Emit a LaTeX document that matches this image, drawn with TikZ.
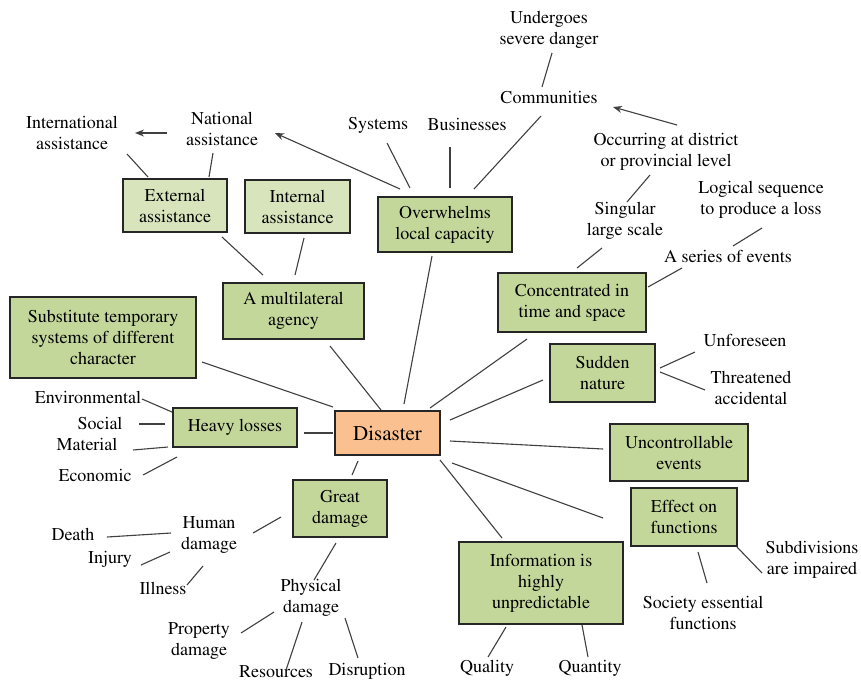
\documentclass[tikz,border=0pt]{standalone}
\usepackage[T1]{fontenc}
\usepackage{times}
\usetikzlibrary{arrows.meta}
\definecolor{boxgreen}{HTML}{C4D79B}
\definecolor{lightgreen}{HTML}{D8E4BC}
\definecolor{peach}{HTML}{FAC090}
\tikzset{
  txt/.style={font=\rmfamily\fontsize{18}{21}\selectfont},
  box/.style={txt, draw=black!85, line width=1.3pt, fill=boxgreen, align=center, inner sep=0pt},
  lbox/.style={box, fill=lightgreen},
  lbl/.style={txt, align=center, inner sep=0pt},
  conn/.style={draw=black!75, line width=1.1pt},
  arr/.style={conn, -{Stealth[length=9pt,width=7pt]}},
}
\newcommand{\cn}[4]{\draw[conn] ([shift={#2}]#1.center) -- ([shift={#4}]#3.center);}
\newcommand{\ca}[4]{\draw[arr] ([shift={#2}]#1.center) -- ([shift={#4}]#3.center);}
\begin{document}
\begin{tikzpicture}[x=1pt,y=-1pt]
\useasboundingbox[fill=white] (0,0) rectangle (861,681);
% boxes
\node[box, fill=peach, font=\rmfamily\fontsize{21}{24}\selectfont, minimum width=105pt, minimum height=44pt] (D) at (387.5,433) {Disaster};
\node[box, minimum width=124pt, minimum height=39pt] (H) at (235,427.5) {Heavy losses};
\node[box, minimum width=186pt, minimum height=81pt] (S) at (103,337.5) {Substitute temporary\\systems of different\\character};
\node[box, minimum width=141pt, minimum height=56pt] (M) at (293.5,311) {A multilateral\\agency};
\node[lbox, minimum width=104pt, minimum height=53pt] (E) at (175,205.5) {External\\assistance};
\node[lbox, minimum width=105pt, minimum height=53pt] (I) at (297.5,206.5) {Internal\\assistance};
\node[box, minimum width=134pt, minimum height=55pt] (O) at (445,224.5) {Overwhelms\\local capacity};
\node[box, minimum width=148pt, minimum height=59pt] (C) at (572,302.5) {Concentrated in\\time and space};
\node[box, minimum width=105pt, minimum height=58pt] (SN) at (602.5,373) {Sudden\\nature};
\node[box, minimum width=138pt, minimum height=57pt] (U) at (679,452.5) {Uncontrollable\\events};
\node[box, minimum width=106pt, minimum height=58pt] (EF) at (684,517) {Effect on\\functions};
\node[box, minimum width=164pt, minimum height=82pt] (IN) at (541,583) {Information is\\highly\\unpredictable};
\node[box, minimum width=94pt, minimum height=57pt] (G) at (340,508.5) {Great\\damage};
% labels
\node[lbl] (intl) at (72,133) {International\\assistance};
\node[lbl] (natl) at (222,129) {National\\assistance};
\node[lbl] (systems) at (378,125) {Systems};
\node[lbl] (business) at (467,124) {Businesses};
\node[lbl] (undergoes) at (549,30) {Undergoes\\severe danger};
\node[lbl] (comm) at (549,97) {Communities};
\node[lbl] (occ) at (666,152) {Occurring at district\\or provincial level};
\node[lbl] (logical) at (761,200) {Logical sequence\\to produce a loss};
\node[lbl] (singular) at (625,221) {Singular\\large scale};
\node[lbl] (series) at (728,256) {A series of events};
\node[lbl] (unf) at (745,340) {Unforeseen};
\node[lbl] (threat) at (751,387.5) {Threatened\\accidental};
\node[lbl] (env) at (88,397) {Environmental};
\node[lbl] (social) at (100,423) {Social};
\node[lbl] (material) at (87,444) {Material};
\node[lbl] (econ) at (95,475) {Economic};
\node[lbl] (human) at (209,535) {Human\\damage};
\node[lbl] (death) at (73,534) {Death};
\node[lbl] (injury) at (110,559) {Injury};
\node[lbl] (illness) at (163,588) {Illness};
\node[lbl] (physical) at (311,597.5) {Physical\\damage};
\node[lbl] (property) at (199,641) {Property\\damage};
\node[lbl] (resources) at (276,672) {Resources};
\node[lbl] (disruption) at (367,671) {Disruption};
\node[lbl] (quality) at (487,668) {Quality};
\node[lbl] (quantity) at (590,668) {Quantity};
\node[lbl] (society) at (703,613) {Society essential\\functions};
\node[lbl] (subdiv) at (812,560) {Subdivisions\\are impaired};
% connectors
\ca{natl}{(-55,4)}{intl}{(63,0)}
\cn{intl}{(55,21)}{E}{(-27,-28.5)}
\cn{natl}{(-9,24)}{E}{(34,-28.5)}
\ca{O}{(-45,-35.5)}{natl}{(53,4)}
\cn{systems}{(9,18)}{O}{(-35,-36.5)}
\cn{business}{(-17,23)}{O}{(5,-36.5)}
\cn{comm}{(-8,19)}{O}{(29,-35.5)}
\cn{undergoes}{(3,23)}{comm}{(-7,-10)}
\ca{occ}{(11,-27)}{comm}{(64,10)}
\cn{occ}{(-16,23)}{singular}{(2,-19)}
\cn{logical}{(1,28)}{series}{(5,-10)}
\cn{singular}{(-23,27)}{C}{(5,-34.5)}
\cn{series}{(-46,12)}{C}{(76,-15.5)}
\cn{C}{(-45,36.5)}{D}{(42.5,-25)}
\cn{SN}{(-59.5,7)}{D}{(62.5,-13)}
\cn{SN}{(57.5,-5)}{unf}{(-50,12)}
\cn{SN}{(57.5,-1)}{threat}{(-46,2.5)}
\cn{U}{(-76,-3.5)}{D}{(62.5,8)}
\cn{EF}{(-81,1)}{D}{(64.5,30)}
\cn{IN}{(-39,-45)}{D}{(52.5,27)}
\cn{EF}{(14,35)}{society}{(4,-30)}
\cn{EF}{(53,30)}{subdiv}{(-50,13)}
\cn{IN}{(-35,44)}{quality}{(1,-11)}
\cn{IN}{(41,42)}{quantity}{(-2,-11)}
\cn{D}{(-29.5,28)}{G}{(12,-33.5)}
\cn{G}{(-59,8.5)}{human}{(44,-2)}
\cn{human}{(-38,-2)}{death}{(34,3)}
\cn{human}{(-39,17)}{injury}{(31,6)}
\cn{human}{(-6,31)}{illness}{(24,-3)}
\cn{G}{(-4,34.5)}{physical}{(3,-17.5)}
\cn{physical}{(-37,14.5)}{property}{(42,-8)}
\cn{physical}{(-9,24.5)}{resources}{(10,-2)}
\cn{physical}{(34,20.5)}{disruption}{(-9,-13)}
\cn{H}{(-58,29.5)}{econ}{(48,0)}
\cn{H}{(-67,19.5)}{material}{(46,6)}
\cn{H}{(-70,-3.5)}{social}{(39,1)}
\cn{H}{(-63,-15.5)}{env}{(54,2)}
\cn{H}{(69,5.5)}{D}{(-54.5,0)}
\cn{S}{(99,24.5)}{D}{(-54.5,-26)}
\cn{M}{(36.5,35)}{D}{(-6.5,-23)}
\cn{O}{(-13,31.5)}{D}{(16.5,-29)}
\cn{E}{(47,31.5)}{M}{(-30.5,-36)}
\cn{I}{(6.5,31.5)}{M}{(1.5,-36)}
\end{tikzpicture}
\end{document}
